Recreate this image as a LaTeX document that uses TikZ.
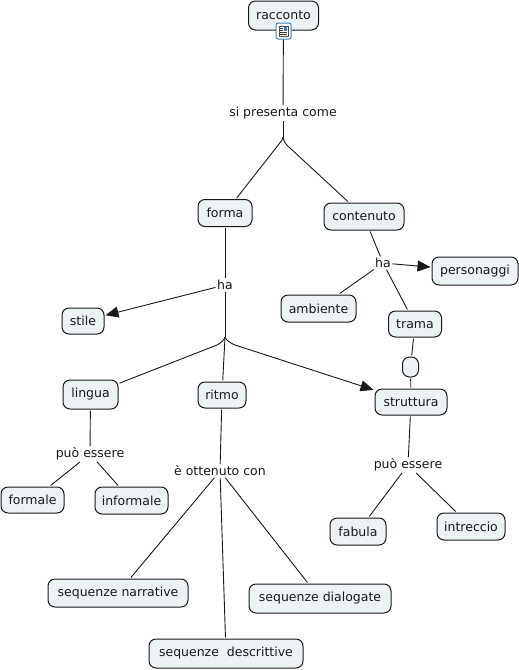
\documentclass[tikz,border=0pt]{standalone}
\usepackage{xcolor}
\usepackage{fontspec}
\setmainfont{DejaVu Sans}
\usetikzlibrary{arrows.meta}
\definecolor{conceptfill}{HTML}{EDF3F5}
\definecolor{iconblue}{HTML}{3F7FBF}
\tikzset{
    concept/.style={draw=black!90, fill=conceptfill, rounded corners=7pt, line width=1pt,
        inner sep=0pt, outer sep=1.5pt, font=\fontsize{12.5}{14}\selectfont, text=black!90},
    linking/.style={fill=white, inner sep=1.5pt, font=\fontsize{12.5}{14}\selectfont, text=black!90},
    link/.style={line width=0.9pt, black!90},
    linkarrow/.style={link, -{Triangle[length=13pt,width=11pt]}},
}

\begin{document}
\begin{tikzpicture}[x=1pt,y=-1pt]
    \useasboundingbox (0,0) rectangle (519,670);

    % concepts
    \node[concept, minimum width=70pt, minimum height=29pt] (racconto) at (283.5,15.5) {racconto};
    \node[concept, minimum width=54pt, minimum height=27pt] (forma) at (225,213) {forma};
    \node[concept, minimum width=80pt, minimum height=27pt] (contenuto) at (364,216.5) {contenuto};
    \node[concept, minimum width=86pt, minimum height=28pt] (personaggi) at (475,271) {personaggi};
    \node[concept, minimum width=75pt, minimum height=27pt] (ambiente) at (318.5,308.5) {ambiente};
    \node[concept, minimum width=53pt, minimum height=26pt] (trama) at (415,324) {trama};
    \node[concept, minimum width=16pt, minimum height=20pt] (nodo) at (410.5,367) {};
    \node[concept, minimum width=72pt, minimum height=26pt] (struttura) at (411,402) {struttura};
    \node[concept, minimum width=42pt, minimum height=26pt] (stile) at (83,321) {stile};
    \node[concept, minimum width=55pt, minimum height=29pt] (lingua) at (90.5,394.5) {lingua};
    \node[concept, minimum width=48pt, minimum height=26pt] (ritmo) at (222,395) {ritmo};
    \node[concept, minimum width=63pt, minimum height=26pt] (formale) at (32.5,500) {formale};
    \node[concept, minimum width=73pt, minimum height=27pt] (informale) at (131.5,500.5) {informale};
    \node[concept, minimum width=56pt, minimum height=27pt] (fabula) at (358,531.5) {fabula};
    \node[concept, minimum width=68pt, minimum height=27pt] (intreccio) at (471,526.5) {intreccio};
    \node[concept, minimum width=140pt, minimum height=28pt] (narrative) at (118,593) {sequenze narrative};
    \node[concept, minimum width=142pt, minimum height=29pt] (dialogate) at (320,598.5) {sequenze dialogate};
    \node[concept, minimum width=154pt, minimum height=29pt] (descrittive) at (226,653.5) {sequenze\ \ descrittive};

    % linking phrases
    \node[linking] (presenta) at (283,113) {si presenta come};
    \node[linking] (haforma) at (225,285) {ha};
    \node[linking] (hacontenuto) at (383,263) {ha};
    \node[linking] (puolingua) at (90,454) {può essere};
    \node[linking] (puostruttura) at (408,465) {può essere};
    \node[linking] (ottenuto) at (220,471) {è ottenuto con};

    % branch points
    \coordinate (A) at (283,137);
    \coordinate (B) at (279,144);
    \coordinate (C) at (290,148);
    \coordinate (D) at (225,337);
    \coordinate (E) at (217,345);
    \coordinate (F) at (235,345);

    % connectors
    \draw[link] (racconto) -- (presenta);
    \draw[link] (presenta) -- (A);
    \draw[link] (A) .. controls (282.5,140) and (281,142) .. (B) -- (forma);
    \draw[link] (A) .. controls (283.5,141) and (286,145) .. (C) -- (contenuto);
    \draw[link] (forma) -- (haforma);
    \draw[linkarrow] (haforma) -- (stile);
    \draw[link] (haforma) -- (D);
    \draw[link] (D) .. controls (224,340) and (221,343) .. (E) -- (lingua);
    \draw[link] (D) -- (ritmo);
    \draw[linkarrow] (D) .. controls (226,340) and (230,343) .. (F) -- (struttura);
    \draw[link] (contenuto) -- (hacontenuto);
    \draw[linkarrow] (hacontenuto) -- (personaggi);
    \draw[link] (hacontenuto) -- (ambiente);
    \draw[link] (hacontenuto) -- (trama);
    \draw[link] (trama) -- (nodo);
    \draw[link] (nodo) -- (struttura);
    \draw[link] (lingua) -- (puolingua);
    \draw[link] (puolingua) -- (formale);
    \draw[link] (puolingua) -- (informale);
    \draw[link] (ritmo) -- (ottenuto);
    \draw[link] (ottenuto) -- (narrative);
    \draw[link] (ottenuto) -- (dialogate);
    \draw[link] (ottenuto) -- (descrittive);
    \draw[link] (struttura) -- (puostruttura);
    \draw[link] (puostruttura) -- (fabula);
    \draw[link] (puostruttura) -- (intreccio);

    % icon on racconto
    \node[draw=iconblue, fill=white, rounded corners=2pt, line width=1pt, minimum width=15pt, minimum height=16pt, inner sep=0pt] (icona) at (283.5,31) {};
    \fill[black!70] (278.5,25.5) rectangle (288.5,36.5);
    \fill[white] (279.5,26.5) rectangle (287.5,35.5);
    \fill[iconblue] (283.5,27) rectangle (287,30.5);
    \draw[black!80, line width=0.7pt] (280,28) -- (283,28);
    \draw[black!80, line width=0.7pt] (280,30) -- (283,30);
    \draw[black!80, line width=0.7pt] (280,32) -- (287,32);
    \draw[black!80, line width=0.7pt] (280,34) -- (287,34);

\end{tikzpicture}
\end{document}
